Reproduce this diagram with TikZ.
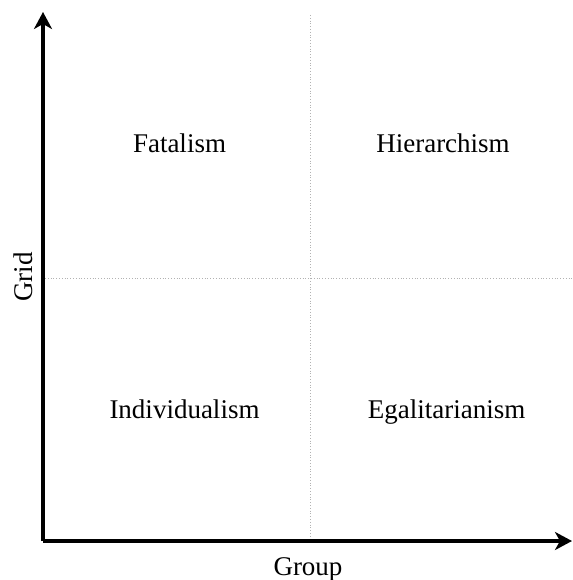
\documentclass[tikz,border=0pt]{standalone}
\usepackage{fontspec}
\setmainfont{Liberation Serif}
\usetikzlibrary{arrows.meta}
\begin{document}
\begin{tikzpicture}[x=1pt, y=-1pt,
    every node/.style={font=\fontsize{27}{32}\selectfont, inner sep=0pt},
    quad/.style={anchor=base},
    axis/.style={-{Stealth[length=17pt, width=18pt, inset=5pt]}, line width=3.2pt},
    split/.style={dotted, gray!60, line width=0.8pt}]
\useasboundingbox (0,0) rectangle (572,580);
\coordinate (o) at (43,541);
\coordinate (ytop) at (43,12);
\coordinate (xend) at (572,541);
\coordinate (vtop) at (310,15);
\coordinate (vbot) at (310,541);
\coordinate (hl) at (45,278);
\coordinate (hr) at (572,278);
\draw[split] (vtop) -- (vbot);
\draw[split] (hl) -- (hr);
\draw[axis] (o) -- (ytop);
\draw[axis] (o) -- (xend);
\node[quad] (fat) at (179.5,153) {Fatalism};
\node[quad] (hier) at (443,153) {Hierarchism};
\node[quad] (ind) at (184.5,418) {Individualism};
\node[quad] (egal) at (446.5,418) {Egalitarianism};
\node[rotate=90, anchor=base] (grid) at (32,277) {Grid};
\node[anchor=base] (group) at (308,575) {Group};
\end{tikzpicture}
\end{document}
